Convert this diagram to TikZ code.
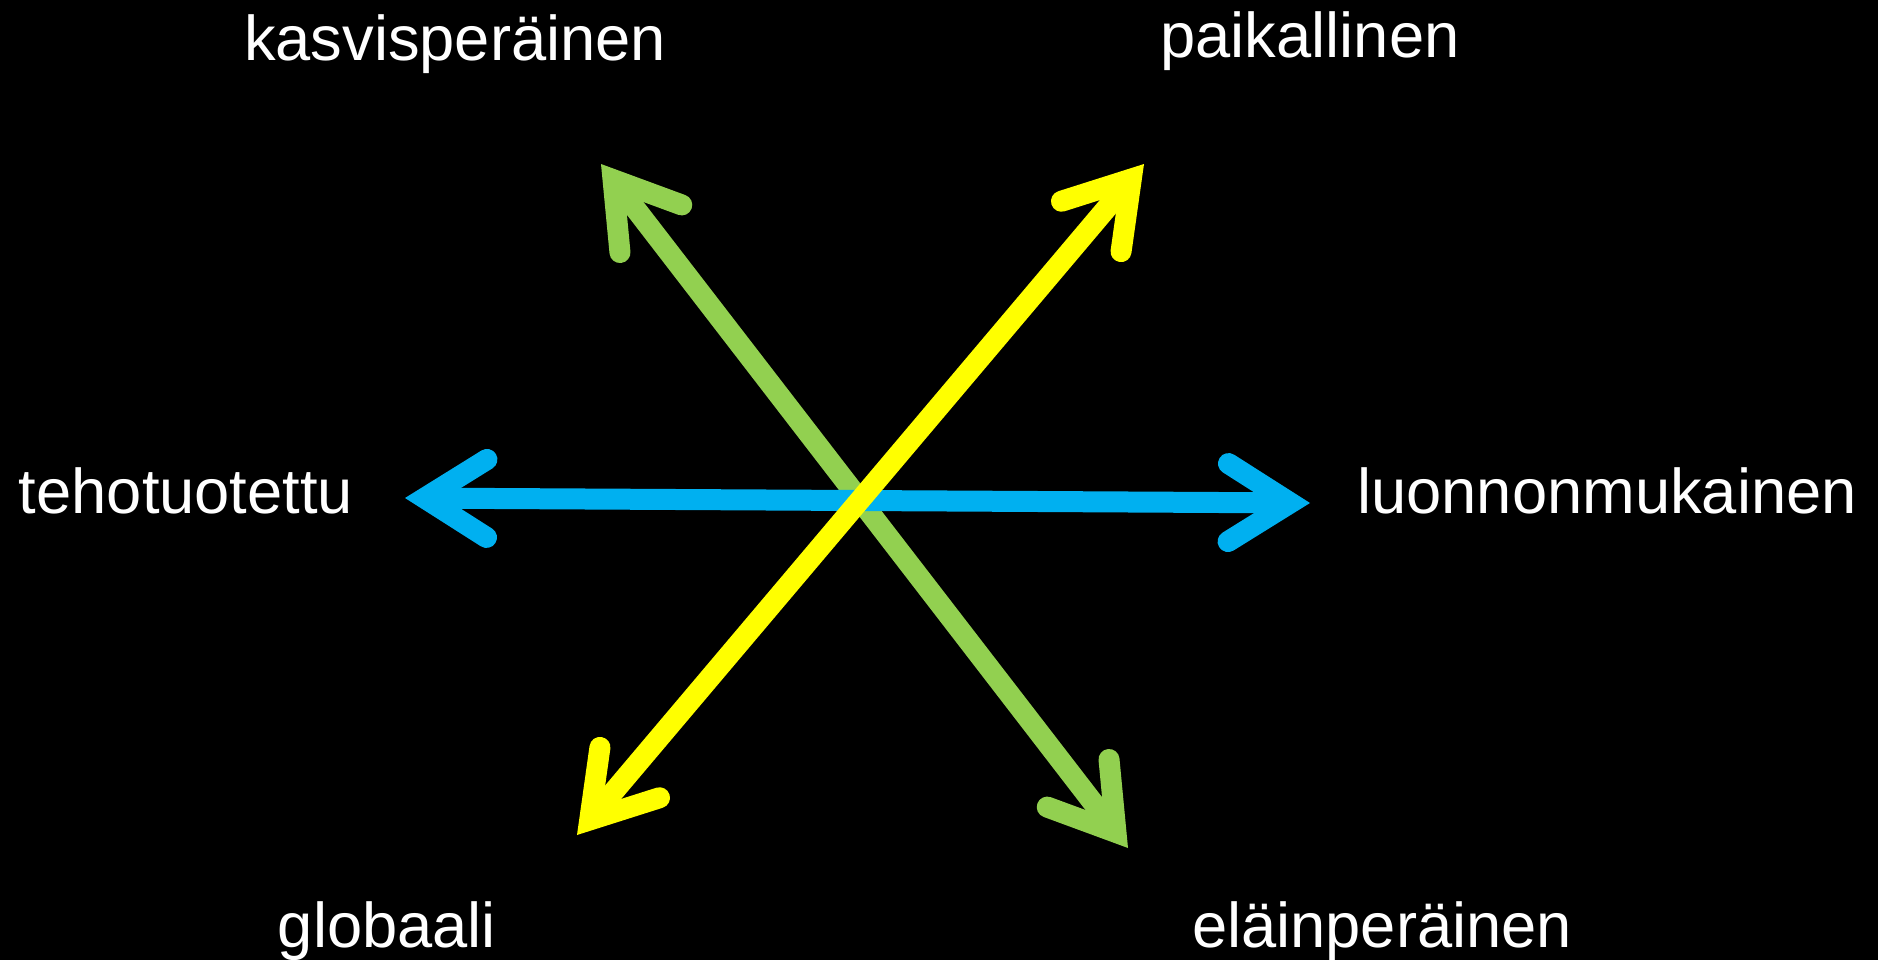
\documentclass[tikz,border=0pt]{standalone}
\usepackage{fontspec}
\setmainfont{Liberation Sans}
\usepackage{tikz}
\usetikzlibrary{arrows.meta, positioning}
\definecolor{mygreen}{RGB}{146,208,80}
\definecolor{myyellow}{RGB}{255,255,0}
\definecolor{myblue}{RGB}{0,176,240}
\tikzset{
  barb/.tip={Straight Barb[length=0.62cm, width=0.78cm, line cap=round, line join=miter]},
  axis/.style={barb-barb, line width=0.21cm},
  label/.style={text=white, font=\fontsize{18}{21}\selectfont, anchor=base, inner sep=0pt}
}
\begin{document}
\begin{tikzpicture}
  \fill[black] (0,0) rectangle (18.78,9.6);
  \useasboundingbox (0,0) rectangle (18.78,9.6);

  % arrow ends
  \coordinate (kas) at (6.01,7.96);
  \coordinate (ela) at (11.28,1.12);
  \coordinate (paik) at (11.44,7.96);
  \coordinate (glob) at (5.77,1.25);
  \coordinate (teho) at (4.05,4.62);
  \coordinate (luon) at (13.10,4.57);

  % labels
  \node[label] (kasL) at (4.55,9.00) {kasvisperäinen};
  \node[label] (paikL) at (13.10,9.03) {paikallinen};
  \node[label] (tehoL) at (1.86,4.47) {tehotuotettu};
  \node[label] (luonL) at (16.07,4.47) {luonnonmukainen};
  \node[label] (globL) at (3.87,0.13) {globaali};
  \node[label] (elaL) at (13.82,0.13) {eläinperäinen};

  \draw[axis, mygreen] (kas) -- (ela);
  \draw[axis, myblue] (teho) -- (luon);
  \draw[axis, myyellow] (paik) -- (glob);
\end{tikzpicture}
\end{document}
